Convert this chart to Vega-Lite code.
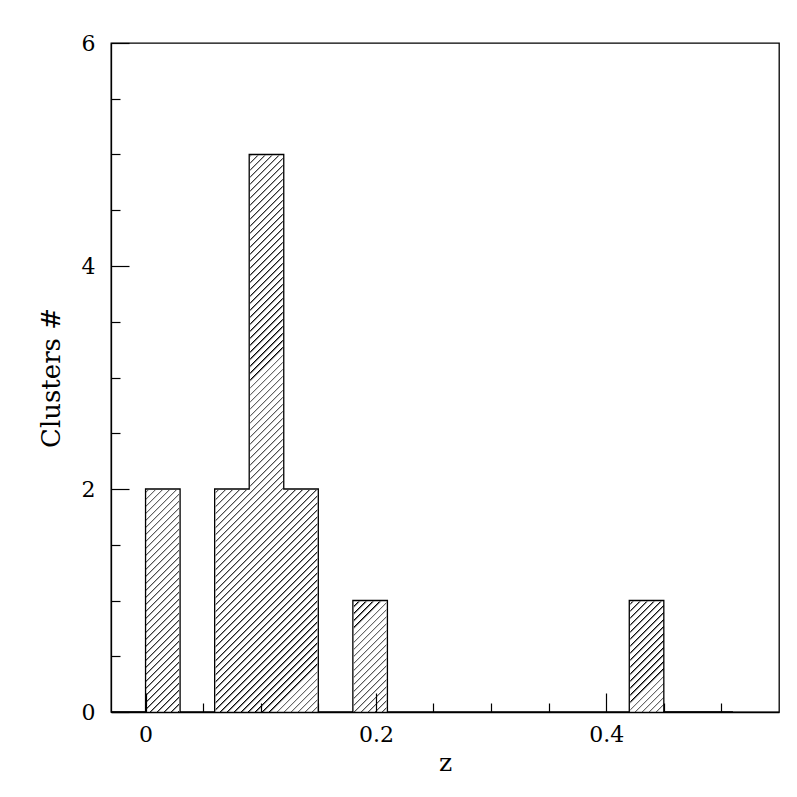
{
"$schema": "https://vega.github.io/schema/vega-lite/v6.json",
"width": 668, "height": 669,
"autosize": "none",
"padding": {"left": 111, "top": 43, "right": 18, "bottom": 85},
"background": "white",
"config": {"view": {"stroke": "black", "strokeWidth": 1.3}, "font": "DejaVu Serif"},
"data": {"values": [
{"bin_start": -0.03, "bin_end": 0.0, "count": 0},
{"bin_start": 0.0, "bin_end": 0.03, "count": 2},
{"bin_start": 0.03, "bin_end": 0.06, "count": 0},
{"bin_start": 0.06, "bin_end": 0.09, "count": 2},
{"bin_start": 0.09, "bin_end": 0.12, "count": 5},
{"bin_start": 0.12, "bin_end": 0.15, "count": 2},
{"bin_start": 0.15, "bin_end": 0.18, "count": 0},
{"bin_start": 0.18, "bin_end": 0.21, "count": 1},
{"bin_start": 0.21, "bin_end": 0.24, "count": 0},
{"bin_start": 0.24, "bin_end": 0.27, "count": 0},
{"bin_start": 0.27, "bin_end": 0.30, "count": 0},
{"bin_start": 0.30, "bin_end": 0.33, "count": 0},
{"bin_start": 0.33, "bin_end": 0.36, "count": 0},
{"bin_start": 0.36, "bin_end": 0.39, "count": 0},
{"bin_start": 0.39, "bin_end": 0.42, "count": 0},
{"bin_start": 0.42, "bin_end": 0.45, "count": 1},
{"bin_start": 0.45, "bin_end": 0.48, "count": 0},
{"bin_start": 0.48, "bin_end": 0.51, "count": 0},
{"bin_start": 0.51, "bin_end": 0.54, "count": 0}
]},
"layer": [
{
"transform": [{"filter": "datum.count > 0"}],
"mark": {"type": "rect", "strokeWidth": 0, "fill": {"gradient": "linear", "x1": 0, "y1": 0, "x2": 1.04656, "y2": 1.12573, "stops": [
{"offset":0,"color":"#000"},{"offset":0.002,"color":"#fff"},{"offset":0.006,"color":"#fff"},
{"offset":0.006,"color":"#000"},{"offset":0.008,"color":"#fff"},{"offset":0.012,"color":"#fff"},
{"offset":0.012,"color":"#000"},{"offset":0.014,"color":"#fff"},{"offset":0.018,"color":"#fff"},
{"offset":0.018,"color":"#000"},{"offset":0.020,"color":"#fff"},{"offset":0.024,"color":"#fff"},
{"offset":0.024,"color":"#000"},{"offset":0.026,"color":"#fff"},{"offset":0.030,"color":"#fff"},
{"offset":0.030,"color":"#000"},{"offset":0.032,"color":"#fff"},{"offset":0.036,"color":"#fff"},
{"offset":0.036,"color":"#000"},{"offset":0.038,"color":"#fff"},{"offset":0.042,"color":"#fff"},
{"offset":0.042,"color":"#000"},{"offset":0.044,"color":"#fff"},{"offset":0.048,"color":"#fff"},
{"offset":0.048,"color":"#000"},{"offset":0.050,"color":"#fff"},{"offset":0.054,"color":"#fff"},
{"offset":0.054,"color":"#000"},{"offset":0.056,"color":"#fff"},{"offset":0.060,"color":"#fff"},
{"offset":0.060,"color":"#000"},{"offset":0.062,"color":"#fff"},{"offset":0.066,"color":"#fff"},
{"offset":0.066,"color":"#000"},{"offset":0.068,"color":"#fff"},{"offset":0.072,"color":"#fff"},
{"offset":0.072,"color":"#000"},{"offset":0.074,"color":"#fff"},{"offset":0.078,"color":"#fff"},
{"offset":0.078,"color":"#000"},{"offset":0.080,"color":"#fff"},{"offset":0.084,"color":"#fff"},
{"offset":0.084,"color":"#000"},{"offset":0.086,"color":"#fff"},{"offset":0.090,"color":"#fff"},
{"offset":0.090,"color":"#000"},{"offset":0.092,"color":"#fff"},{"offset":0.096,"color":"#fff"},
{"offset":0.096,"color":"#000"},{"offset":0.098,"color":"#fff"},{"offset":0.102,"color":"#fff"},
{"offset":0.102,"color":"#000"},{"offset":0.104,"color":"#fff"},{"offset":0.108,"color":"#fff"},
{"offset":0.108,"color":"#000"},{"offset":0.110,"color":"#fff"},{"offset":0.114,"color":"#fff"},
{"offset":0.114,"color":"#000"},{"offset":0.116,"color":"#fff"},{"offset":0.120,"color":"#fff"},
{"offset":0.120,"color":"#000"},{"offset":0.122,"color":"#fff"},{"offset":0.126,"color":"#fff"},
{"offset":0.126,"color":"#000"},{"offset":0.128,"color":"#fff"},{"offset":0.132,"color":"#fff"},
{"offset":0.132,"color":"#000"},{"offset":0.134,"color":"#fff"},{"offset":0.138,"color":"#fff"},
{"offset":0.138,"color":"#000"},{"offset":0.140,"color":"#fff"},{"offset":0.144,"color":"#fff"},
{"offset":0.144,"color":"#000"},{"offset":0.146,"color":"#fff"},{"offset":0.150,"color":"#fff"},
{"offset":0.150,"color":"#000"},{"offset":0.152,"color":"#fff"},{"offset":0.156,"color":"#fff"},
{"offset":0.156,"color":"#000"},{"offset":0.158,"color":"#fff"},{"offset":0.162,"color":"#fff"},
{"offset":0.162,"color":"#000"},{"offset":0.164,"color":"#fff"},{"offset":0.168,"color":"#fff"},
{"offset":0.168,"color":"#000"},{"offset":0.170,"color":"#fff"},{"offset":0.174,"color":"#fff"},
{"offset":0.174,"color":"#000"},{"offset":0.176,"color":"#fff"},{"offset":0.180,"color":"#fff"},
{"offset":0.180,"color":"#000"},{"offset":0.182,"color":"#fff"},{"offset":0.186,"color":"#fff"},
{"offset":0.186,"color":"#000"},{"offset":0.188,"color":"#fff"},{"offset":0.192,"color":"#fff"},
{"offset":0.192,"color":"#000"},{"offset":0.194,"color":"#fff"},{"offset":0.198,"color":"#fff"},
{"offset":0.198,"color":"#000"},{"offset":0.200,"color":"#fff"},{"offset":0.204,"color":"#fff"},
{"offset":0.204,"color":"#000"},{"offset":0.206,"color":"#fff"},{"offset":0.210,"color":"#fff"},
{"offset":0.210,"color":"#000"},{"offset":0.212,"color":"#fff"},{"offset":0.216,"color":"#fff"},
{"offset":0.216,"color":"#000"},{"offset":0.218,"color":"#fff"},{"offset":0.222,"color":"#fff"},
{"offset":0.222,"color":"#000"},{"offset":0.224,"color":"#fff"},{"offset":0.228,"color":"#fff"},
{"offset":0.228,"color":"#000"},{"offset":0.230,"color":"#fff"},{"offset":0.234,"color":"#fff"},
{"offset":0.234,"color":"#000"},{"offset":0.236,"color":"#fff"},{"offset":0.240,"color":"#fff"},
{"offset":0.240,"color":"#000"},{"offset":0.242,"color":"#fff"},{"offset":0.246,"color":"#fff"},
{"offset":0.246,"color":"#000"},{"offset":0.248,"color":"#fff"},{"offset":0.252,"color":"#fff"},
{"offset":0.252,"color":"#000"},{"offset":0.254,"color":"#fff"},{"offset":0.258,"color":"#fff"},
{"offset":0.258,"color":"#000"},{"offset":0.260,"color":"#fff"},{"offset":0.264,"color":"#fff"},
{"offset":0.264,"color":"#000"},{"offset":0.266,"color":"#fff"},{"offset":0.270,"color":"#fff"},
{"offset":0.270,"color":"#000"},{"offset":0.272,"color":"#fff"},{"offset":0.276,"color":"#fff"},
{"offset":0.276,"color":"#000"},{"offset":0.278,"color":"#fff"},{"offset":0.282,"color":"#fff"},
{"offset":0.282,"color":"#000"},{"offset":0.284,"color":"#fff"},{"offset":0.288,"color":"#fff"},
{"offset":0.288,"color":"#000"},{"offset":0.290,"color":"#fff"},{"offset":0.294,"color":"#fff"},
{"offset":0.294,"color":"#000"},{"offset":0.296,"color":"#fff"},{"offset":0.300,"color":"#fff"},
{"offset":0.300,"color":"#000"},{"offset":0.302,"color":"#fff"},{"offset":0.306,"color":"#fff"},
{"offset":0.306,"color":"#000"},{"offset":0.308,"color":"#fff"},{"offset":0.312,"color":"#fff"},
{"offset":0.312,"color":"#000"},{"offset":0.314,"color":"#fff"},{"offset":0.318,"color":"#fff"},
{"offset":0.318,"color":"#000"},{"offset":0.320,"color":"#fff"},{"offset":0.324,"color":"#fff"},
{"offset":0.324,"color":"#000"},{"offset":0.326,"color":"#fff"},{"offset":0.330,"color":"#fff"},
{"offset":0.330,"color":"#000"},{"offset":0.332,"color":"#fff"},{"offset":0.336,"color":"#fff"},
{"offset":0.336,"color":"#000"},{"offset":0.338,"color":"#fff"},{"offset":0.342,"color":"#fff"},
{"offset":0.342,"color":"#000"},{"offset":0.344,"color":"#fff"},{"offset":0.348,"color":"#fff"},
{"offset":0.348,"color":"#000"},{"offset":0.350,"color":"#fff"},{"offset":0.354,"color":"#fff"},
{"offset":0.354,"color":"#000"},{"offset":0.356,"color":"#fff"},{"offset":0.360,"color":"#fff"},
{"offset":0.360,"color":"#000"},{"offset":0.362,"color":"#fff"},{"offset":0.366,"color":"#fff"},
{"offset":0.366,"color":"#000"},{"offset":0.368,"color":"#fff"},{"offset":0.372,"color":"#fff"},
{"offset":0.372,"color":"#000"},{"offset":0.374,"color":"#fff"},{"offset":0.378,"color":"#fff"},
{"offset":0.378,"color":"#000"},{"offset":0.380,"color":"#fff"},{"offset":0.384,"color":"#fff"},
{"offset":0.384,"color":"#000"},{"offset":0.386,"color":"#fff"},{"offset":0.390,"color":"#fff"},
{"offset":0.390,"color":"#000"},{"offset":0.392,"color":"#fff"},{"offset":0.396,"color":"#fff"},
{"offset":0.396,"color":"#000"},{"offset":0.398,"color":"#fff"},{"offset":0.402,"color":"#fff"},
{"offset":0.402,"color":"#000"},{"offset":0.404,"color":"#fff"},{"offset":0.408,"color":"#fff"},
{"offset":0.408,"color":"#000"},{"offset":0.410,"color":"#fff"},{"offset":0.414,"color":"#fff"},
{"offset":0.414,"color":"#000"},{"offset":0.416,"color":"#fff"},{"offset":0.420,"color":"#fff"},
{"offset":0.420,"color":"#000"},{"offset":0.422,"color":"#fff"},{"offset":0.426,"color":"#fff"},
{"offset":0.426,"color":"#000"},{"offset":0.428,"color":"#fff"},{"offset":0.432,"color":"#fff"},
{"offset":0.432,"color":"#000"},{"offset":0.434,"color":"#fff"},{"offset":0.438,"color":"#fff"},
{"offset":0.438,"color":"#000"},{"offset":0.440,"color":"#fff"},{"offset":0.444,"color":"#fff"},
{"offset":0.444,"color":"#000"},{"offset":0.446,"color":"#fff"},{"offset":0.450,"color":"#fff"},
{"offset":0.450,"color":"#000"},{"offset":0.452,"color":"#fff"},{"offset":0.456,"color":"#fff"},
{"offset":0.456,"color":"#000"},{"offset":0.458,"color":"#fff"},{"offset":0.462,"color":"#fff"},
{"offset":0.462,"color":"#000"},{"offset":0.464,"color":"#fff"},{"offset":0.468,"color":"#fff"},
{"offset":0.468,"color":"#000"},{"offset":0.470,"color":"#fff"},{"offset":0.474,"color":"#fff"},
{"offset":0.474,"color":"#000"},{"offset":0.476,"color":"#fff"},{"offset":0.480,"color":"#fff"},
{"offset":0.480,"color":"#000"},{"offset":0.482,"color":"#fff"},{"offset":0.486,"color":"#fff"},
{"offset":0.486,"color":"#000"},{"offset":0.488,"color":"#fff"},{"offset":0.492,"color":"#fff"},
{"offset":0.492,"color":"#000"},{"offset":0.494,"color":"#fff"},{"offset":0.498,"color":"#fff"},
{"offset":0.498,"color":"#000"},{"offset":0.500,"color":"#fff"},{"offset":0.504,"color":"#fff"},
{"offset":0.504,"color":"#000"},{"offset":0.506,"color":"#fff"},{"offset":0.510,"color":"#fff"},
{"offset":0.510,"color":"#000"},{"offset":0.512,"color":"#fff"},{"offset":0.516,"color":"#fff"},
{"offset":0.516,"color":"#000"},{"offset":0.518,"color":"#fff"},{"offset":0.522,"color":"#fff"},
{"offset":0.522,"color":"#000"},{"offset":0.524,"color":"#fff"},{"offset":0.528,"color":"#fff"},
{"offset":0.528,"color":"#000"},{"offset":0.530,"color":"#fff"},{"offset":0.534,"color":"#fff"},
{"offset":0.534,"color":"#000"},{"offset":0.536,"color":"#fff"},{"offset":0.540,"color":"#fff"},
{"offset":0.540,"color":"#000"},{"offset":0.542,"color":"#fff"},{"offset":0.546,"color":"#fff"},
{"offset":0.546,"color":"#000"},{"offset":0.548,"color":"#fff"},{"offset":0.552,"color":"#fff"},
{"offset":0.552,"color":"#000"},{"offset":0.554,"color":"#fff"},{"offset":0.558,"color":"#fff"},
{"offset":0.558,"color":"#000"},{"offset":0.560,"color":"#fff"},{"offset":0.564,"color":"#fff"},
{"offset":0.564,"color":"#000"},{"offset":0.566,"color":"#fff"},{"offset":0.570,"color":"#fff"},
{"offset":0.570,"color":"#000"},{"offset":0.572,"color":"#fff"},{"offset":0.576,"color":"#fff"},
{"offset":0.576,"color":"#000"},{"offset":0.578,"color":"#fff"},{"offset":0.582,"color":"#fff"},
{"offset":0.582,"color":"#000"},{"offset":0.584,"color":"#fff"},{"offset":0.588,"color":"#fff"},
{"offset":0.588,"color":"#000"},{"offset":0.590,"color":"#fff"},{"offset":0.594,"color":"#fff"},
{"offset":0.594,"color":"#000"},{"offset":0.596,"color":"#fff"},{"offset":0.600,"color":"#fff"},
{"offset":0.600,"color":"#000"},{"offset":0.602,"color":"#fff"},{"offset":0.606,"color":"#fff"},
{"offset":0.606,"color":"#000"},{"offset":0.608,"color":"#fff"},{"offset":0.612,"color":"#fff"},
{"offset":0.612,"color":"#000"},{"offset":0.614,"color":"#fff"},{"offset":0.618,"color":"#fff"},
{"offset":0.618,"color":"#000"},{"offset":0.620,"color":"#fff"},{"offset":0.624,"color":"#fff"},
{"offset":0.624,"color":"#000"},{"offset":0.626,"color":"#fff"},{"offset":0.630,"color":"#fff"},
{"offset":0.630,"color":"#000"},{"offset":0.632,"color":"#fff"},{"offset":0.636,"color":"#fff"},
{"offset":0.636,"color":"#000"},{"offset":0.638,"color":"#fff"},{"offset":0.642,"color":"#fff"},
{"offset":0.642,"color":"#000"},{"offset":0.644,"color":"#fff"},{"offset":0.648,"color":"#fff"},
{"offset":0.648,"color":"#000"},{"offset":0.650,"color":"#fff"},{"offset":0.654,"color":"#fff"},
{"offset":0.654,"color":"#000"},{"offset":0.656,"color":"#fff"},{"offset":0.660,"color":"#fff"},
{"offset":0.660,"color":"#000"},{"offset":0.662,"color":"#fff"},{"offset":0.666,"color":"#fff"},
{"offset":0.666,"color":"#000"},{"offset":0.668,"color":"#fff"},{"offset":0.672,"color":"#fff"},
{"offset":0.672,"color":"#000"},{"offset":0.674,"color":"#fff"},{"offset":0.678,"color":"#fff"},
{"offset":0.678,"color":"#000"},{"offset":0.680,"color":"#fff"},{"offset":0.684,"color":"#fff"},
{"offset":0.684,"color":"#000"},{"offset":0.686,"color":"#fff"},{"offset":0.690,"color":"#fff"},
{"offset":0.690,"color":"#000"},{"offset":0.692,"color":"#fff"},{"offset":0.696,"color":"#fff"},
{"offset":0.696,"color":"#000"},{"offset":0.698,"color":"#fff"},{"offset":0.702,"color":"#fff"},
{"offset":0.702,"color":"#000"},{"offset":0.704,"color":"#fff"},{"offset":0.708,"color":"#fff"},
{"offset":0.708,"color":"#000"},{"offset":0.710,"color":"#fff"},{"offset":0.714,"color":"#fff"},
{"offset":0.714,"color":"#000"},{"offset":0.716,"color":"#fff"},{"offset":0.720,"color":"#fff"},
{"offset":0.720,"color":"#000"},{"offset":0.722,"color":"#fff"},{"offset":0.726,"color":"#fff"},
{"offset":0.726,"color":"#000"},{"offset":0.728,"color":"#fff"},{"offset":0.732,"color":"#fff"},
{"offset":0.732,"color":"#000"},{"offset":0.734,"color":"#fff"},{"offset":0.738,"color":"#fff"},
{"offset":0.738,"color":"#000"},{"offset":0.740,"color":"#fff"},{"offset":0.744,"color":"#fff"},
{"offset":0.744,"color":"#000"},{"offset":0.746,"color":"#fff"},{"offset":0.750,"color":"#fff"},
{"offset":0.750,"color":"#000"},{"offset":0.752,"color":"#fff"},{"offset":0.756,"color":"#fff"},
{"offset":0.756,"color":"#000"},{"offset":0.758,"color":"#fff"},{"offset":0.762,"color":"#fff"},
{"offset":0.762,"color":"#000"},{"offset":0.764,"color":"#fff"},{"offset":0.768,"color":"#fff"},
{"offset":0.768,"color":"#000"},{"offset":0.770,"color":"#fff"},{"offset":0.774,"color":"#fff"},
{"offset":0.774,"color":"#000"},{"offset":0.776,"color":"#fff"},{"offset":0.780,"color":"#fff"},
{"offset":0.780,"color":"#000"},{"offset":0.782,"color":"#fff"},{"offset":0.786,"color":"#fff"},
{"offset":0.786,"color":"#000"},{"offset":0.788,"color":"#fff"},{"offset":0.792,"color":"#fff"},
{"offset":0.792,"color":"#000"},{"offset":0.794,"color":"#fff"},{"offset":0.798,"color":"#fff"},
{"offset":0.798,"color":"#000"},{"offset":0.800,"color":"#fff"},{"offset":0.804,"color":"#fff"},
{"offset":0.804,"color":"#000"},{"offset":0.806,"color":"#fff"},{"offset":0.810,"color":"#fff"},
{"offset":0.810,"color":"#000"},{"offset":0.812,"color":"#fff"},{"offset":0.816,"color":"#fff"},
{"offset":0.816,"color":"#000"},{"offset":0.818,"color":"#fff"},{"offset":0.822,"color":"#fff"},
{"offset":0.822,"color":"#000"},{"offset":0.824,"color":"#fff"},{"offset":0.828,"color":"#fff"},
{"offset":0.828,"color":"#000"},{"offset":0.830,"color":"#fff"},{"offset":0.834,"color":"#fff"},
{"offset":0.834,"color":"#000"},{"offset":0.836,"color":"#fff"},{"offset":0.840,"color":"#fff"},
{"offset":0.840,"color":"#000"},{"offset":0.842,"color":"#fff"},{"offset":0.846,"color":"#fff"},
{"offset":0.846,"color":"#000"},{"offset":0.848,"color":"#fff"},{"offset":0.852,"color":"#fff"},
{"offset":0.852,"color":"#000"},{"offset":0.854,"color":"#fff"},{"offset":0.858,"color":"#fff"},
{"offset":0.858,"color":"#000"},{"offset":0.860,"color":"#fff"},{"offset":0.864,"color":"#fff"},
{"offset":0.864,"color":"#000"},{"offset":0.866,"color":"#fff"},{"offset":0.870,"color":"#fff"},
{"offset":0.870,"color":"#000"},{"offset":0.872,"color":"#fff"},{"offset":0.876,"color":"#fff"},
{"offset":0.876,"color":"#000"},{"offset":0.878,"color":"#fff"},{"offset":0.882,"color":"#fff"},
{"offset":0.882,"color":"#000"},{"offset":0.884,"color":"#fff"},{"offset":0.888,"color":"#fff"},
{"offset":0.888,"color":"#000"},{"offset":0.890,"color":"#fff"},{"offset":0.894,"color":"#fff"},
{"offset":0.894,"color":"#000"},{"offset":0.896,"color":"#fff"},{"offset":0.900,"color":"#fff"},
{"offset":0.900,"color":"#000"},{"offset":0.902,"color":"#fff"},{"offset":0.906,"color":"#fff"},
{"offset":0.906,"color":"#000"},{"offset":0.908,"color":"#fff"},{"offset":0.912,"color":"#fff"},
{"offset":0.912,"color":"#000"},{"offset":0.914,"color":"#fff"},{"offset":0.918,"color":"#fff"},
{"offset":0.918,"color":"#000"},{"offset":0.920,"color":"#fff"},{"offset":0.924,"color":"#fff"}
]}},
"encoding": {
"x": {"aggregate": "min", "field": "bin_start", "type": "quantitative", "title": "z", "scale": {"domain": [-0.03, 0.55], "nice": false, "zero": false},
  "axis": {"values": [0, 0.05, 0.1, 0.15, 0.2, 0.25, 0.3, 0.35, 0.4, 0.45, 0.5], "labelExpr": "round(datum.value*100) % 20 == 0 ? format(datum.value, '.1~f') : ''", "tickSize": {"condition": {"test": "round(datum.value*100) % 20 == 0", "value": -19}, "value": -9}, "tickColor": "black", "tickWidth": 1.2, "domain": true, "domainColor": "black", "domainWidth": 1.3, "grid": false, "labelFont": "DejaVu Serif", "labelFontSize": 22, "labelColor": "black", "labelPadding": 31, "labelOverlap": false, "labelFlush": false, "titleFont": "DejaVu Serif", "titleFontSize": 25, "titleFontWeight": "normal", "titleColor": "black", "titlePadding": -5, "zindex": 1}},
"x2": {"aggregate": "max", "field": "bin_end"},
"y": {"aggregate": "max", "field": "count", "type": "quantitative", "title": "Clusters #", "scale": {"domain": [0, 6], "nice": false},
  "axis": {"values": [0, 0.5, 1, 1.5, 2, 2.5, 3, 3.5, 4, 4.5, 5, 5.5, 6], "labelExpr": "datum.value % 2 == 0 ? format(datum.value, 'd') : ''", "tickSize": {"condition": {"test": "datum.value % 2 == 0", "value": -18}, "value": -9}, "tickColor": "black", "tickWidth": 1.2, "domain": true, "domainColor": "black", "domainWidth": 1.3, "grid": false, "labelFont": "DejaVu Serif", "labelFontSize": 22, "labelColor": "black", "labelPadding": 34, "labelOverlap": false, "titleFont": "DejaVu Serif", "titleFontSize": 26, "titleFontWeight": "normal", "titleColor": "black", "titlePadding": 17, "zindex": 1}},
"y2": {"datum": 0}
}
},
{
"transform": [{"filter": "datum.bin_start >= 0 && datum.bin_start < 0.44"}],
"mark": {"type": "rect", "fill": "white", "stroke": "white", "strokeWidth": 2},
"encoding": {
"x": {"field": "bin_start", "type": "quantitative", "title": "z"},
"x2": {"field": "bin_end"},
"y": {"field": "count", "type": "quantitative", "title": "Clusters #"},
"y2": {"datum": 5}
}
},
{
"mark": {"type": "line", "interpolate": "step-after", "color": "black", "strokeWidth": 1.3},
"encoding": {
"x": {"field": "bin_start", "type": "quantitative", "title": "z"},
"y": {"field": "count", "type": "quantitative", "title": "Clusters #"}
}
}
]
}
